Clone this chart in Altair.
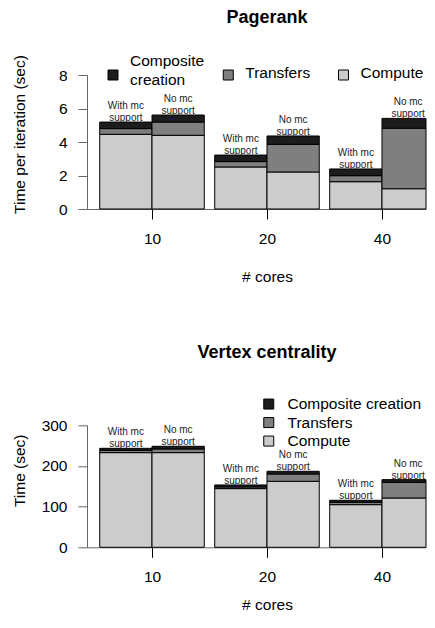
import altair as alt
import pandas as pd

# ---------------- data ----------------
cores = ["10", "20", "40"]
support = ["With mc\nsupport", "No mc\nsupport"]
components = ["Composite creation", "Transfers", "Compute"]
top_legend_labels = ["Composite\ncreation", "Transfers", "Compute"]
fills = ["#1c1c1c", "#7f7f7f", "#cccccc"]

# bar order: (10,With) (10,No) (20,With) (20,No) (40,With) (40,No)
pr_compute = [4.46, 4.40, 2.51, 2.21, 1.63, 1.21]
pr_transfers = [0.34, 0.79, 0.32, 1.65, 0.36, 3.61]
pr_composite = [0.39, 0.42, 0.39, 0.50, 0.40, 0.59]
pr_yticks = [0, 2, 4, 6, 8]

vc_compute = [232.8, 232.8, 144.3, 162.3, 104.9, 121.3]
vc_transfers = [5.7, 9.0, 4.1, 18.0, 5.8, 38.5]
vc_composite = [4.9, 6.6, 4.9, 6.6, 4.9, 6.6]
vc_yticks = [0, 100, 200, 300]

FONT = "Liberation Sans"
W = 339
PX = 52.27           # pixels per bar width
GAP = 0.2            # R barplot space between groups (in bar widths)
GROUP = 2 + GAP      # one group = two bars plus the gap
X0 = 1.2 - 65 / PX
X1 = X0 + W / PX


def tables(compute, transfers, composite):
    rows, labels = [], []
    k = 0
    for g, c in enumerate(cores):
        for s, sup in enumerate(support):
            left = g * GROUP + s + GAP
            parts = {"Compute": compute[k], "Transfers": transfers[k],
                     "Composite creation": composite[k]}
            for o, comp in enumerate(["Compute", "Transfers", "Composite creation"]):
                rows.append({"bar": k, "x": left, "x2": left + 1, "component": comp,
                             "value": parts[comp], "ord": o})
            labels.append({"xm": left + 0.5, "support": sup,
                           "total": sum(parts.values())})
            k += 1
    return pd.DataFrame(rows), pd.DataFrame(labels)


centers = [round(g * GROUP + 1 + GAP, 6) for g in range(len(cores))]
core_expr = "[" + ",".join("'%s'" % c for c in cores) + "]"


def manual_legend():
    layers = []
    for i, (lab, fill) in enumerate(zip(top_legend_labels, fills)):
        cx = 26 + i * 115.25
        d = pd.DataFrame({"label": [lab]})
        layers.append(alt.Chart(d).mark_square(
            size=100, fill=fill, stroke="black", strokeWidth=1, opacity=1).encode(
            x=alt.value(cx), y=alt.value(0)))
        multi = "\n" in lab
        layers.append(alt.Chart(d).mark_text(
            align="left", baseline="middle", fontSize=15.5, lineHeight=18.5,
            lineBreak="\n", color="black", font=FONT).encode(
            x=alt.value(cx + 17), y=alt.value(-14 if multi else -2),
            text="label:N"))
    return layers


def panel(compute, transfers, composite, yticks, title, ytitle, height,
          ytitle_y, legend, title_offset, xtitle_y, extra=()):
    bars_df, labels_df = tables(compute, transfers, composite)
    xscale = alt.Scale(domain=[X0, X1], clamp=True, nice=False, zero=False)
    xaxis = alt.Axis(title="# cores", values=centers, domain=True, domainColor="#666",
                     domainWidth=1, grid=False,
                     tickColor="black", tickSize=10, tickWidth=1, labelAngle=0,
                     labelFontSize=15.5, labelPadding=12, labelColor="black",
                     labelExpr=core_expr + "[round((datum.value - %s) / %s)]" % (centers[0], GROUP),
                     titleFontSize=15.5, titleFontWeight="normal", titleColor="black",
                     titleY=xtitle_y, titleBaseline="top", titleX=180)
    yaxis = alt.Axis(values=yticks, title=ytitle, grid=False, domainColor="#666",
                     tickColor="#666", tickSize=9, labelPadding=11, labelFontSize=15.5,
                     labelColor="black", labelOverlap=False, titleFontSize=15.5,
                     titleFontWeight="normal", titleColor="black", titleX=-60,
                     titleY=ytitle_y)
    yscale = alt.Scale(domain=[yticks[0], yticks[-1]], nice=False)

    bars = alt.Chart(bars_df).transform_stack(
        stack="value", groupby=["bar"], as_=["y0", "y1"],
        sort=[alt.SortField("ord", order="ascending")]
    ).mark_bar(stroke="black", strokeWidth=1).encode(
        x=alt.X("x:Q", scale=xscale, axis=xaxis), x2="x2:Q",
        y=alt.Y("y0:Q", scale=yscale, axis=yaxis), y2="y1:Q",
        color=alt.Color("component:N",
                        scale=alt.Scale(domain=components, range=fills),
                        legend=legend))
    text = alt.Chart(labels_df).mark_text(
        baseline="bottom", fontSize=10, lineHeight=12, lineBreak="\n", dy=-11,
        color="#222", font=FONT).encode(
        x=alt.X("xm:Q", scale=xscale, axis=xaxis),
        y=alt.Y("total:Q", scale=yscale, axis=yaxis),
        text="support:N")
    return alt.layer(bars, text, *extra).properties(
        width=W, height=height,
        title=alt.Title(title, fontSize=18, fontWeight="bold", frame="group",
                        anchor="middle", dx=10.5, offset=title_offset, color="black",
                        font=FONT))


legend_bottom = alt.Legend(
    orient="none", legendX=174, legendY=-29, direction="vertical", title=None,
    symbolType="square", symbolSize=100, symbolStrokeColor="black",
    symbolStrokeWidth=1, labelFontSize=15.5, labelColor="black", labelOffset=11,
    rowPadding=1.5, labelLimit=300)

top = panel(pr_compute, pr_transfers, pr_composite, pr_yticks, "Pagerank",
            "Time per iteration (sec)", 134, 59, None, 27, 60, manual_legend())
bottom = panel(vc_compute, vc_transfers, vc_composite, vc_yticks, "Vertex centrality",
               "Time (sec)", 122, 45, legend_bottom, 34.5, 50)

chart = alt.vconcat(top, bottom, spacing=58.3).resolve_scale(
    color="independent", x="independent", y="independent").resolve_legend(
    color="independent").properties(
    padding={"left": 4, "top": 1, "right": 0, "bottom": 0}).configure(
    font=FONT).configure_view(stroke=None)

chart.save("out.html", embed_options={"renderer": "svg", "actions": False})
